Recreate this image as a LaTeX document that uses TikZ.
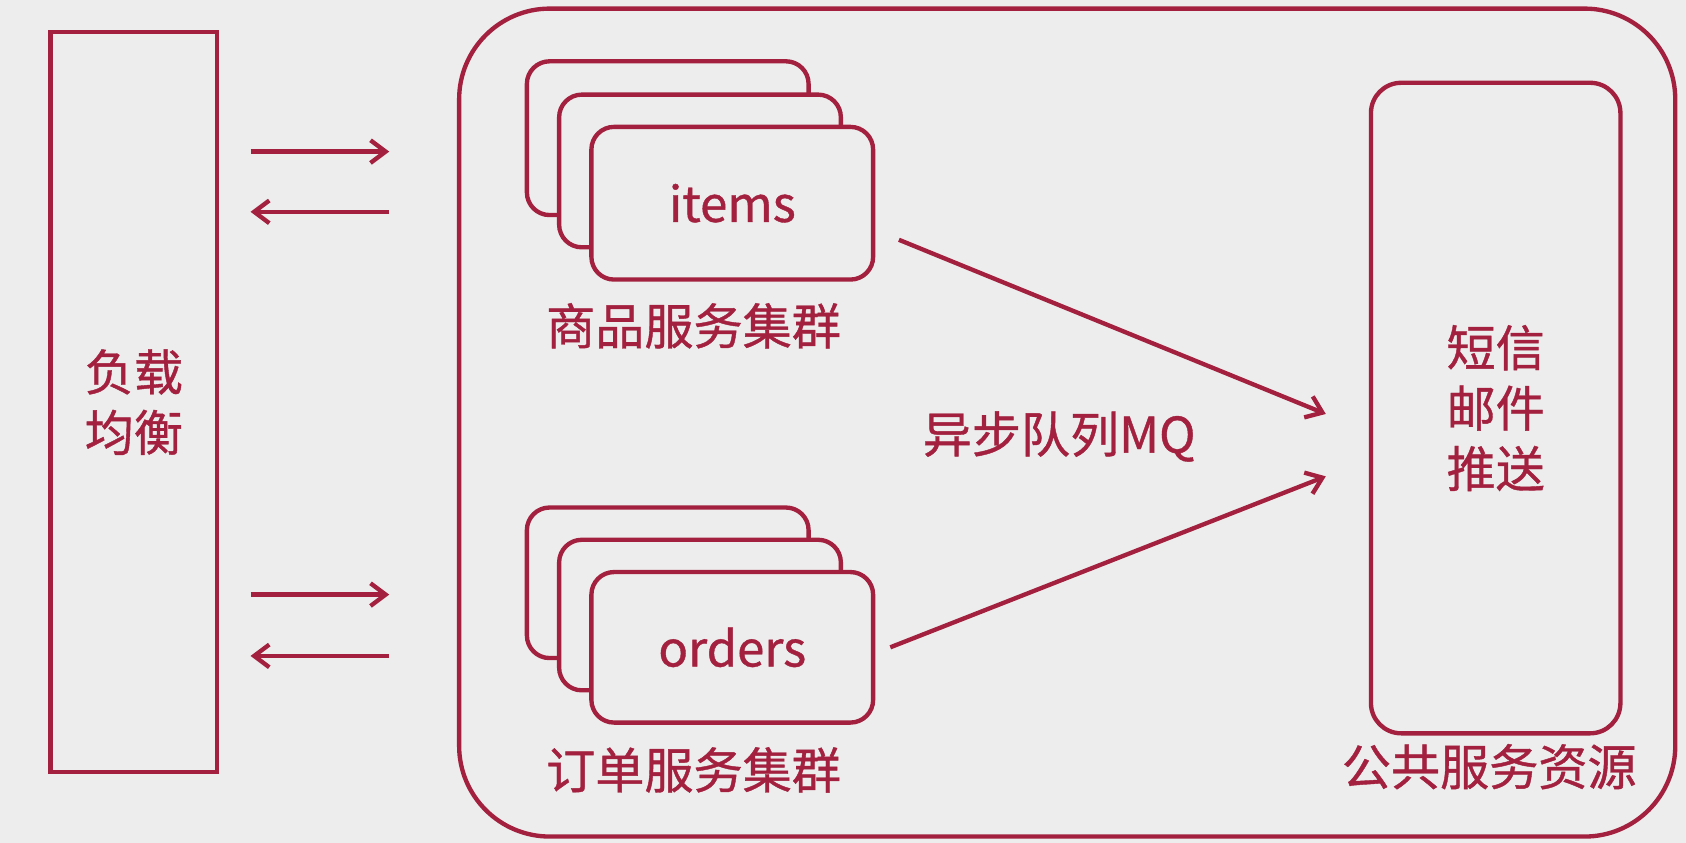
\documentclass[tikz,border=0pt]{standalone}
\usepackage{fontspec}
\setmainfont[BoldFont={Noto Sans CJK SC},BoldFeatures={FakeBold=0.8}]{Noto Sans CJK SC}
\usetikzlibrary{arrows.meta}
\definecolor{dr}{HTML}{A3213F}
\definecolor{bg}{HTML}{EDEDED}
\begin{document}
\begin{tikzpicture}[x=0.02cm,y=-0.02cm,
  ln/.style={draw=dr,line width=2.3pt},
  card/.style={ln,fill=bg,rounded corners=12pt},
  arr/.style={draw=dr,line width=2.3pt,-{Straight Barb[length=8pt,width=12pt]}},
  lbl/.style={text=dr,font=\fontsize{26}{32}\selectfont\bfseries,align=center}]
\fill[bg] (0,0) rectangle (1568,784);
\useasboundingbox (0,0) rectangle (1568,784);
\node[ln,minimum width=155*0.02cm,minimum height=688*0.02cm,lbl] (lb) at (124.5,374) {负载\\均衡};
\draw[ln,rounded corners=48pt] (427,8) rectangle (1558,778);
\coordinate (a1s) at (233,141); \coordinate (a1e) at (362,141);
\coordinate (a2s) at (362,197); \coordinate (a2e) at (233,197);
\coordinate (a3s) at (233,553); \coordinate (a3e) at (362,553);
\coordinate (a4s) at (362,610); \coordinate (a4e) at (233,610);
\draw[arr] (a1s)--(a1e); \draw[arr] (a2s)--(a2e);
\draw[arr] (a3s)--(a3e); \draw[arr] (a4s)--(a4e);
\draw[card] (490,57) rectangle (752,200);
\draw[card] (520,88) rectangle (782,230);
\node[card,minimum width=262*0.02cm,minimum height=142*0.02cm,lbl] (items) at (681,189) {items};
\node[lbl] (ilbl) at (645,303) {商品服务集群};
\draw[card] (490,472) rectangle (752,612);
\draw[card] (520,502) rectangle (782,642);
\node[card,minimum width=262*0.02cm,minimum height=140*0.02cm,lbl] (orders) at (681,602) {orders};
\node[lbl] (olbl) at (645,716) {订单服务集群};
\node[ln,rounded corners=16pt,minimum width=232*0.02cm,minimum height=605*0.02cm,lbl] (pub) at (1391,379.5) {短信\\邮件\\推送};
\node[lbl] (plbl) at (1385,713) {公共服务资源};
\coordinate (t1) at (1233,385); \coordinate (t2) at (1233,443);
\draw[arr] (836,223)--(t1);
\draw[arr] (828,602)--(t2);
\node[lbl] (mq) at (985,406) {异步队列MQ};
\end{tikzpicture}
\end{document}
